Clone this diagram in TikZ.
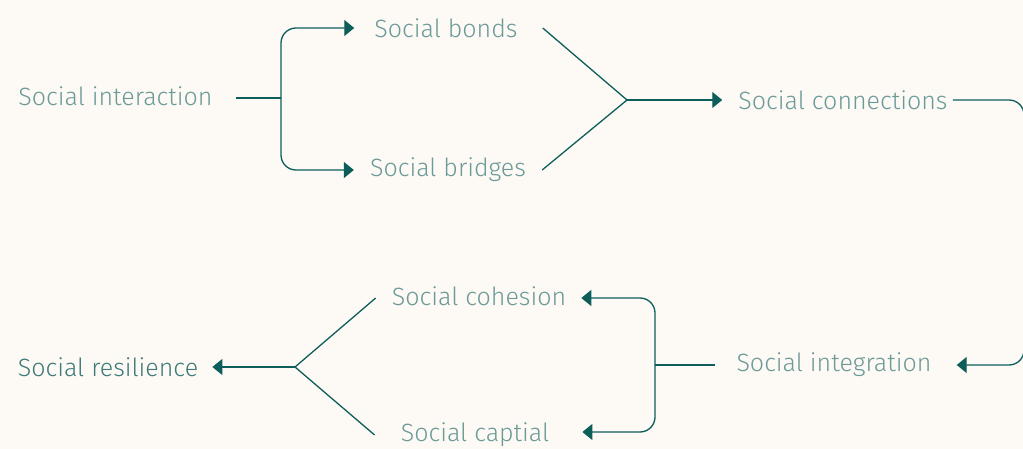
\documentclass[tikz,border=0pt]{standalone}
\usepackage{fontspec}
\setmainfont{Fira Sans}[UprightFont={* Light}]
\usetikzlibrary{arrows.meta}
\definecolor{bgcol}{HTML}{FDFAF5}
\definecolor{linecol}{HTML}{0D5E5B}
\definecolor{textcol}{HTML}{6B9A98}
\definecolor{darktext}{HTML}{3F7B79}
\begin{document}
\begin{tikzpicture}[x=1pt,y=-1pt,
    lbl/.style={text=textcol,inner sep=0pt,font=\fontsize{25}{28}\selectfont},
    conn/.style={draw=linecol,line width=1.3pt},
    arr/.style={conn,-{Triangle[length=10pt,width=16pt]}}]
  % Background and page size
  \fill[bgcol] (0,0) rectangle (1023,449);
  \useasboundingbox (0,0) rectangle (1023,449);
  % Labels
  \node[lbl] (interaction) at (115.5,96) {Social interaction};
  \node[lbl] (bonds) at (446,28) {Social bonds};
  \node[lbl] (bridges) at (448,170) {Social bridges};
  \node[lbl] (connections) at (843,100) {Social connections};
  \node[lbl] (integration) at (834,365) {Social integration};
  \node[lbl] (cohesion) at (479,296) {Social cohesion};
  \node[lbl] (capital) at (475,435) {Social captial};
  \node[lbl,text=darktext] (resilience) at (108,367) {Social resilience};
  % Branch and merge points
  \coordinate (split1) at (281,98);
  \coordinate (merge1) at (627,100);
  \coordinate (turn) at (1024,232);
  \coordinate (split2) at (655,365);
  \coordinate (merge2) at (295,367);
  % Top row
  \draw[conn] ([xshift=23pt,yshift=-2pt]interaction.east) -- (split1);
  \draw[arr,rounded corners=15pt] (split1) |- ([xshift=-20pt]bonds.west);
  \draw[arr,rounded corners=15pt] (split1) |- ([xshift=-16pt]bridges.west);
  \draw[conn] ([xshift=25pt]bonds.east) -- (merge1) -- ([xshift=16pt]bridges.east);
  \draw[arr] (merge1) -- ([xshift=-16pt]connections.west);
  % Loop round the right edge
  \draw[arr,rounded corners=15pt] ([xshift=5pt]connections.east) -| (turn)
    |- ([xshift=25pt]integration.east);
  % Bottom row
  \draw[conn] ([xshift=-21pt]integration.west) -- (split2);
  \draw[arr,rounded corners=15pt] (split2) |- ([xshift=15pt,yshift=-2pt]cohesion.east);
  \draw[arr,rounded corners=15pt] (split2) |- ([xshift=33pt,yshift=3pt]capital.east);
  \draw[conn] ([xshift=-16pt,yshift=-2pt]cohesion.west) -- (merge2)
    -- ([xshift=-26pt]capital.west);
  \draw[arr] (merge2) -- ([xshift=14pt]resilience.east);
\end{tikzpicture}
\end{document}
